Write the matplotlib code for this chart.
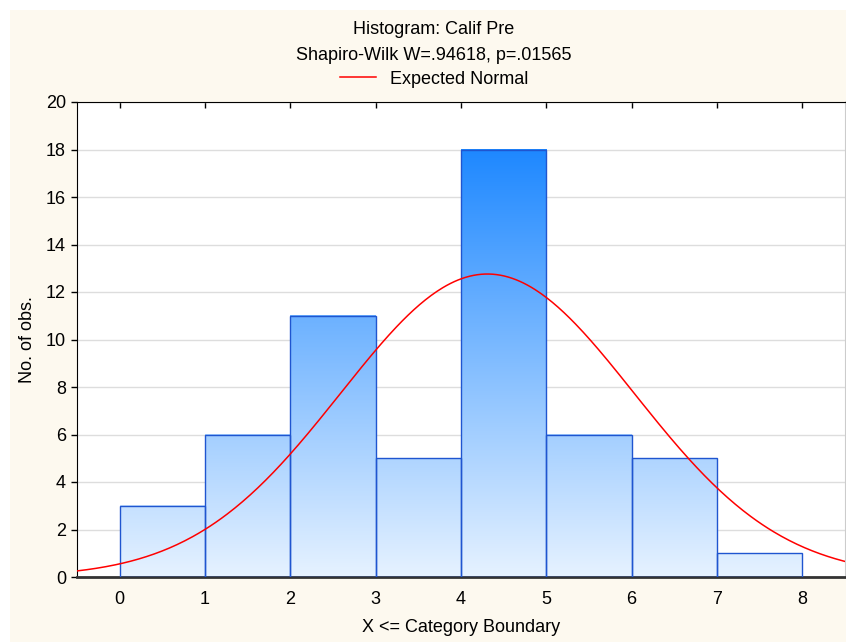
import numpy as np
import matplotlib
matplotlib.use("Agg")
import matplotlib.pyplot as plt
from matplotlib.colors import LinearSegmentedColormap
from matplotlib.patches import Rectangle
from matplotlib.lines import Line2D

plt.rcParams['font.family'] = ['Liberation Sans', 'DejaVu Sans']

# histogram: bin (k-1, k] drawn between k-1 and k
left_edges = [0, 1, 2, 3, 4, 5, 6, 7]
counts = [3, 6, 11, 5, 18, 6, 5, 1]
upper_bounds = [1, 2, 3, 4, 5, 6, 7, 8]
x_ticks = [0, 1, 2, 3, 4, 5, 6, 7, 8]
y_ticks = [0, 2, 4, 6, 8, 10, 12, 14, 16, 18, 20]

# expected normal fitted to the data
n = sum(counts)
vals = np.repeat(upper_bounds, counts)
mu = vals.mean()
sd = vals.std(ddof=1)
xs = np.linspace(-0.5, 8.5, 400)
ys = n * 1.0 * np.exp(-(xs - mu) ** 2 / (2 * sd ** 2)) / (sd * np.sqrt(2 * np.pi))

fs = 13

fig = plt.figure(figsize=(8.46, 6.42), dpi=100)
fig.patch.set_facecolor('white')
fig.patches.append(Rectangle((10 / 846, 0), 1, 1 - 10 / 642, transform=fig.transFigure,
                             facecolor='#fdf9ef', edgecolor='none', zorder=-10))

ax = fig.add_axes([77 / 846, 1 - 577 / 642, 768 / 846, 475 / 642])
ax.set_facecolor('white')

cmap = LinearSegmentedColormap.from_list('bars', ['#e6f2ff', '#1e88ff'])
top = max(counts)
for x0, c in zip(left_edges, counts):
    g = np.linspace(0, c / top, 256).reshape(-1, 1)
    ax.imshow(g, cmap=cmap, vmin=0, vmax=1, origin='lower', aspect='auto',
              extent=[x0, x0 + 1, 0, c], zorder=2, interpolation='bilinear')
    ax.add_patch(Rectangle((x0, 0), 1, c, facecolor='none', edgecolor='#1f55d0',
                           linewidth=1.0, zorder=3))
ax.set_xlim(-0.5, 8.5)
ax.set_ylim(0, 20)

ax.plot(xs, ys, color='#ff0000', linewidth=1.1, zorder=4)

ax.set_yticks(y_ticks)
ax.set_xticks(x_ticks)
ax.yaxis.grid(True, color='#dddddd', linewidth=1.0, zorder=0)
ax.set_axisbelow(True)
ax.tick_params(axis='both', labelsize=fs, colors='black', length=4, width=1)
ax.tick_params(axis='x', top=True, bottom=False, direction='in', pad=10)
ax.tick_params(axis='y', right=True, pad=4)

ax.spines['left'].set_color('black')
ax.spines['top'].set_color('black')
ax.spines['bottom'].set_color('#333333')
ax.spines['bottom'].set_linewidth(2)
ax.spines['right'].set_color('#cccccc')

fig.text(461 / 846, 1 - 628 / 642, 'X <= Category Boundary', ha='center', va='center', fontsize=fs)
fig.text(28 / 846, 1 - 340 / 642, 'No. of obs.', ha='center', va='center', rotation=90, fontsize=fs)

cx = 434 / 846
fig.text(cx, 1 - 30 / 642, 'Histogram: Calif Pre', ha='center', va='center', fontsize=fs)
fig.text(cx, 1 - 55 / 642, 'Shapiro-Wilk W=.94618, p=.01565', ha='center', va='center', fontsize=fs)
fig.legend(handles=[Line2D([], [], color='#ff0000', linewidth=1.1)], labels=['Expected Normal'],
           loc='center', bbox_to_anchor=(cx, 1 - 79 / 642), frameon=False, fontsize=fs,
           handlelength=2.0, handletextpad=0.8)

fig.savefig('out.png', dpi=100, facecolor=fig.get_facecolor())
